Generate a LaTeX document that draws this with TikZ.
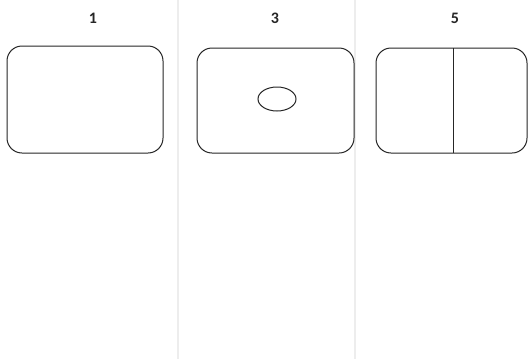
\documentclass[tikz,border=0pt]{standalone}
\usepackage{fontspec}
\setmainfont{Carlito}
\begin{document}
\begin{tikzpicture}[x=1pt,y=-1pt,
  panel/.style={draw=black!85, line width=1pt, rounded corners=15pt},
  sep/.style={draw=black!7, line width=2pt},
  title/.style={font=\bfseries\fontsize{16}{16}\selectfont, text=black!85}]
\useasboundingbox[fill=white] (0,0) rectangle (529,359);
\draw[sep] (178,0) -- (178,359);
\draw[sep] (355,0) -- (355,359);
\node[title] (t1) at (93,18) {1};
\node[title] (t3) at (275,18) {3};
\node[title] (t5) at (455,18) {5};
\draw[panel] (7,46) rectangle (163,153);
\draw[panel] (197,48) rectangle (354,153);
\draw[black!85, line width=1pt] (277,99) ellipse [x radius=19, y radius=12];
\draw[panel] (376,48) rectangle (527,153);
\coordinate (d1) at (453,48);
\coordinate (d2) at (453,153);
\draw[black!85, line width=1pt] (d1) -- (d2);
\end{tikzpicture}
\end{document}
